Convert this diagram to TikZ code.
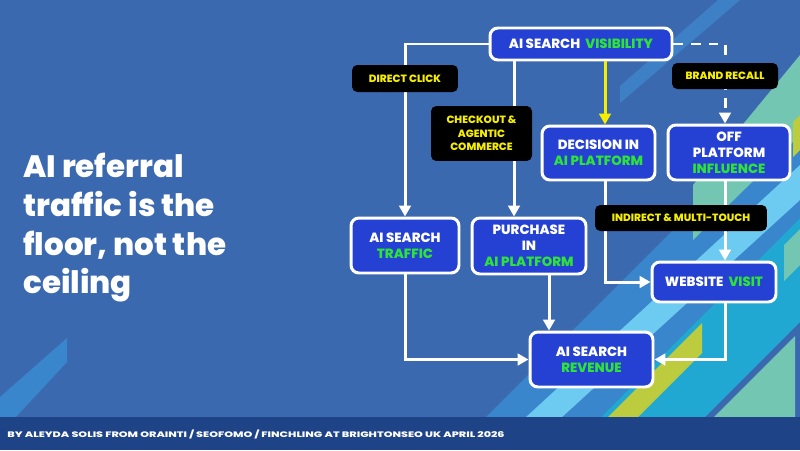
\documentclass[tikz,border=0pt]{standalone}
\usepackage{fontspec}
\usepackage{graphicx}
\setmainfont{Poppins}[BoldFont=* ExtraBold]
\usetikzlibrary{arrows.meta}

\definecolor{bgblue}{HTML}{3B69B0}
\definecolor{footblue}{HTML}{1E4487}
\definecolor{boxblue}{HTML}{2541D3}
\definecolor{hl}{HTML}{2EE23A}
\definecolor{tagyellow}{HTML}{F5EE00}
\definecolor{topband}{HTML}{3E80C6}
\definecolor{midblue}{HTML}{3A86CC}
\definecolor{skyblue}{HTML}{6DCBF1}
\definecolor{cyanband}{HTML}{20A8D2}
\definecolor{mint}{HTML}{72C6B2}
\definecolor{lime}{HTML}{BDCB3E}

\tikzset{
  box/.style={draw=white, line width=1.7pt, fill=boxblue, rounded corners=4.5pt, text=white, align=center, inner sep=0pt, font=\fontsize{7.6}{9.1}\selectfont\bfseries},
  tag/.style={fill=black, rounded corners=3pt, text=tagyellow, align=center, inner sep=0pt, font=\fontsize{6}{7.6}\selectfont\bfseries},
  link/.style={white, line width=1.7pt, -{Triangle[length=6.2pt,width=6.6pt]}},
  dashlink/.style={link, dash pattern=on 5.5pt off 4.5pt},
}

\begin{document}
\begin{tikzpicture}[x=0.02cm,y=-0.02cm]
\fill[bgblue] (0,0) rectangle (800,450);

\fill[topband] (718,0) -- (740,0) -- (620,103) -- (620,86) -- cycle;
\fill[midblue] (485,418) -- (600,418) -- (800,218) -- (800,103) -- cycle;
\fill[mint] (800,55) -- (800,135) -- (693,240) -- (693,185) -- cycle;
\fill[cyanband] (600,418) -- (704,418) -- (800,322) -- (800,218) -- cycle;
\fill[skyblue] (525,418) -- (561,418) -- (800,200) -- (800,165) -- cycle;
\fill[lime] (607,418) -- (637,418) -- (702,353) -- (702,323) -- cycle;
\fill[lime] (793,122) -- (800,115) -- (800,150) -- (793,157) -- cycle;
\fill[mint] (713,418) -- (795,418) -- (795,336) -- cycle;
\fill[mint] (784,245) -- (800,229) -- (800,265) -- (784,281) -- cycle;
\fill[midblue] (0,397) -- (67,338) -- (67,362) -- (15,418) -- (0,418) -- cycle;

\fill[footblue] (0,417) rectangle (800,450);

\node[anchor=north west, align=left, text=white, inner sep=0pt, font=\fontsize{17.6}{22}\selectfont\bfseries] (title) at (23,153) {AI referral\\traffic is the\\floor, not the\\ceiling};

\node[box, minimum width=3.64cm, minimum height=0.64cm] (vis) at (581,44) {AI SEARCH\ \ \textcolor{hl}{VISIBILITY}};
\node[box, minimum width=2.26cm, minimum height=1.08cm] (dec) at (598.5,153) {DECISION IN\\\textcolor{hl}{AI PLATFORM}};
\node[box, minimum width=2.44cm, minimum height=1.1cm] (off) at (729,152.5) {OFF\\PLATFORM\\\textcolor{hl}{INFLUENCE}};
\node[box, minimum width=2.16cm, minimum height=1.1cm] (traffic) at (405,245.5) {AI SEARCH\\\textcolor{hl}{TRAFFIC}};
\node[box, minimum width=2.28cm, minimum height=1.12cm] (purch) at (529,246) {PURCHASE\\IN\\\textcolor{hl}{AI PLATFORM}};
\node[box, minimum width=2.48cm, minimum height=0.8cm] (web) at (714,282) {WEBSITE\ \ \textcolor{hl}{VISIT}};
\node[box, minimum width=2.46cm, minimum height=1.1cm] (rev) at (591.5,359.5) {AI SEARCH\\\textcolor{hl}{REVENUE}};

\coordinate (cko) at (514,0);
\coordinate (dcx) at (605,0);
\coordinate (pux) at (549,0);
\coordinate (rcl) at (725,0);

\draw[link] (vis.west) -| (traffic.north);
\draw[link] (vis.south -| cko) -- (purch.north -| cko);
\draw[link, tagyellow] (vis.south -| dcx) -- (dec.north -| dcx);
\draw[dashlink] (vis.east) -| (off.north -| rcl);
\draw[link] (dec.south -| dcx) |- (web.west);
\draw[link] (off.south -| rcl) -- (web.north -| rcl);
\draw[link] (traffic.south) |- (rev.west);
\draw[link] (purch.south -| pux) -- (rev.north -| pux);
\draw[link] (web.south -| rcl) |- (rev.east);

\node[tag, minimum width=2.12cm, minimum height=0.54cm] (click) at (405,78.5) {DIRECT CLICK};
\node[tag, minimum width=2.02cm, minimum height=1.1cm] (checkout) at (481.5,133.5) {CHECKOUT \&\\AGENTIC\\COMMERCE};
\node[tag, minimum width=2.12cm, minimum height=0.52cm] (recall) at (725,76) {BRAND RECALL};
\node[tag, minimum width=3.44cm, minimum height=0.52cm] (multi) at (681,218) {INDIRECT \& MULTI-TOUCH};

\node[anchor=west, text=white, inner sep=0pt] (byline) at (7,434) {\resizebox{283pt}{4.3pt}{\bfseries BY ALEYDA SOLIS FROM ORAINTI / SEOFOMO / FINCHLING AT BRIGHTONSEO UK APRIL 2026}};
\end{tikzpicture}
\end{document}
